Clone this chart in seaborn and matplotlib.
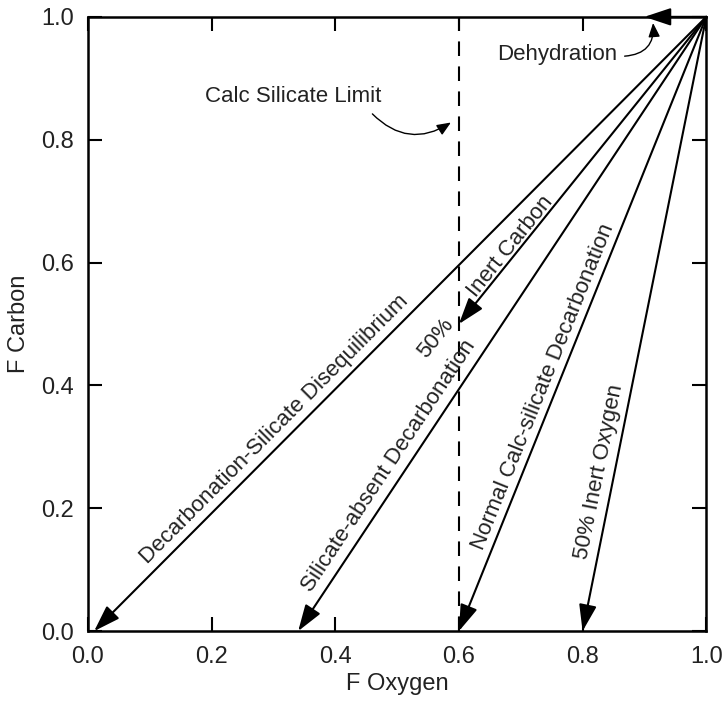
import matplotlib
matplotlib.use("Agg")
import matplotlib.pyplot as plt
import seaborn as sns
import pandas as pd
import numpy as np

# Data
origin = (1.0, 1.0)
path_names = ["Decarbonation-Silicate Disequilibrium", "Silicate-absent Decarbonation",
              "Normal Calc-silicate Decarbonation", "50% Inert Oxygen",
              "50% Inert Carbon", "Dehydration"]
end_x = [0.01, 0.34, 0.60, 0.80, 0.60, 0.90]
end_y = [0.00, 0.00, 0.00, 0.00, 0.50, 1.00]
limit_x = [0.6, 0.6]
limit_y = [0.0, 1.0]
xticks = [0.0, 0.2, 0.4, 0.6, 0.8, 1.0]
yticks = [0.0, 0.2, 0.4, 0.6, 0.8, 1.0]

sns.set_style("ticks")
plt.rcParams['font.family'] = ['Liberation Sans', 'DejaVu Sans']

fig = plt.figure(figsize=(7.24, 7.02), dpi=100)
ax = fig.add_axes([0.1215, 0.101, 0.854, 0.875])
ax.set_xlim(0, 1)
ax.set_ylim(0, 1)

limit_df = pd.DataFrame({"x": limit_x, "y": limit_y})
ax.plot(limit_df["x"], limit_df["y"], color="black", lw=1.5, linestyle=(0, (7, 5)))

for ex, ey in zip(end_x, end_y):
    ax.annotate("", xy=(ex, ey), xytext=origin, xycoords="data",
                arrowprops=dict(arrowstyle="-|>,head_length=0.9,head_width=0.3",
                                color="black", lw=1.5, shrinkA=0, shrinkB=0,
                                mutation_scale=18))


def line_angle(ex, ey):
    p0 = ax.transData.transform((ex, ey))
    p1 = ax.transData.transform(origin)
    return np.degrees(np.arctan2(p1[1] - p0[1], p1[0] - p0[0]))


fs = 16
tkw = dict(fontsize=fs, ha="center", va="center", rotation_mode="anchor", color="#222222")
ax.text(0.3010, 0.3290, "Decarbonation-Silicate Disequilibrium",
        rotation=line_angle(end_x[0], end_y[0]), **tkw)
ax.text(0.4860, 0.2690, "Silicate-absent Decarbonation",
        rotation=line_angle(end_x[1], end_y[1]), **tkw)
ax.text(0.7370, 0.3970, "Normal Calc-silicate Decarbonation",
        rotation=line_angle(end_x[2], end_y[2]), **tkw)
ax.text(0.8270, 0.2595, "50% Inert Oxygen",
        rotation=line_angle(end_x[3], end_y[3]), **tkw)
ax.text(0.6840, 0.6265, "Inert Carbon",
        rotation=line_angle(end_x[4], end_y[4]), **tkw)
ax.text(0.5630, 0.4760, "50%",
        rotation=line_angle(end_x[4], end_y[4]), **tkw)
ax.text(0.759, 0.938, "Dehydration", rotation=0, **tkw)
ax.text(0.332, 0.870, "Calc Silicate Limit", rotation=0, **tkw)

# curvy pointer arrows
ax.annotate("", xy=(0.914, 0.990), xytext=(0.868, 0.936),
            arrowprops=dict(arrowstyle="-|>,head_length=0.6,head_width=0.25",
                            connectionstyle="arc3,rad=0.5", color="black", lw=1.0,
                            shrinkA=0, shrinkB=0, mutation_scale=14))
ax.annotate("", xy=(0.587, 0.828), xytext=(0.460, 0.842),
            arrowprops=dict(arrowstyle="-|>,head_length=0.6,head_width=0.25",
                            connectionstyle="arc3,rad=0.4", color="black", lw=1.0,
                            shrinkA=0, shrinkB=0, mutation_scale=14))

ax.set_xticks(xticks)
ax.set_yticks(yticks)
ax.set_xticklabels([f"{v:.1f}" for v in xticks])
ax.set_yticklabels([f"{v:.1f}" for v in yticks])
ax.tick_params(direction="in", length=10, width=1.5, labelsize=17, colors="black",
               top=True, right=True, labelcolor="#222222")
ax.tick_params(axis="x", pad=11)
ax.tick_params(axis="y", pad=10)
for s in ax.spines.values():
    s.set_linewidth(1.8)
    s.set_color("black")
ax.set_xlabel("F Oxygen", fontsize=17, labelpad=3, color="#222222")
ax.set_ylabel("F Carbon", fontsize=17, labelpad=8, color="#222222")

fig.savefig("out.png", dpi=100)
